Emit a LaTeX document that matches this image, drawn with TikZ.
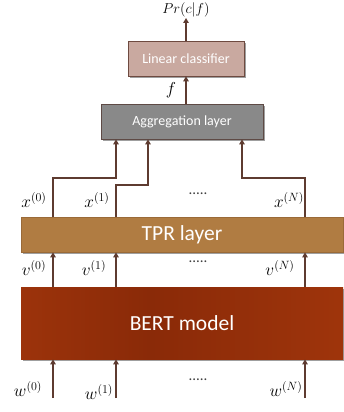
\documentclass[tikz,border=0pt]{standalone}
\usepackage{fontspec}
\setmainfont{Carlito}
\usetikzlibrary{shadows,arrows.meta}
\definecolor{arrc}{HTML}{5E3B30}
\definecolor{linfill}{HTML}{C9A9A0}
\definecolor{linborder}{HTML}{6E4A40}
\definecolor{aggfill}{HTML}{898989}
\definecolor{aggborder}{HTML}{5E4A45}
\definecolor{tprfill}{HTML}{B07C42}
\definecolor{tprborder}{HTML}{9A6A38}
\definecolor{bA}{HTML}{8F3C1E}
\definecolor{bB}{HTML}{A2360C}
\definecolor{bC}{HTML}{8A2A08}
\pgfdeclarehorizontalshading{bertshade}{100bp}{color(0bp)=(bA); color(18bp)=(bB); color(45bp)=(bC); color(80bp)=(bB); color(100bp)=(bA)}
\tikzset{
  box/.style={rectangle, inner sep=0pt, text=white, line width=0.8pt,
    drop shadow={shadow xshift=1.6pt, shadow yshift=-1.6pt, opacity=0.5, fill=black!75}},
  smallbox/.style={box, font=\fontsize{14}{16}\selectfont},
  bigbox/.style={box, font=\fontsize{21.5}{24}\selectfont},
  arr/.style={draw=arrc, line width=1.6pt, -{Triangle[width=5.5pt,length=5pt]}},
  lab/.style={inner sep=0pt, font=\fontsize{17}{19}\selectfont},
  toplab/.style={inner sep=0pt, font=\fontsize{15}{17}\selectfont},
  dots/.style={inner sep=0pt, text=black!75, font=\fontsize{15}{16}\selectfont}
}
\begin{document}
\begin{tikzpicture}[x=1pt,y=-1pt]
\useasboundingbox (0,0) rectangle (343,412);
% boxes
\node[smallbox, fill=linfill, draw=linborder, minimum width=116pt, minimum height=35pt] (lin) at (186,58.5) {Linear classifier};
\node[smallbox, fill=aggfill, draw=aggborder, minimum width=162pt, minimum height=35pt] (agg) at (182,121.5) {Aggregation layer};
\node[bigbox, fill=tprfill, draw=tprborder, minimum width=322pt, minimum height=35pt] (tpr) at (182,234.5) {TPR layer};
\node[bigbox, shading=bertshade, minimum width=322pt, minimum height=72pt] (bert) at (182,323) {BERT model};
% column coordinates
\coordinate (c0) at (53,0);
\coordinate (c1) at (116,0);
\coordinate (cN) at (305,0);
\coordinate (cf) at (186,0);
\coordinate (prend) at (186,18);
\coordinate (k0) at (116,178);
\coordinate (k1) at (148,185);
\coordinate (kN) at (242,178);
\coordinate (w0s) at (53,398);
\coordinate (w1s) at (116,398);
\coordinate (wNs) at (305,398);
% top
\node[toplab] (pr) at (186,9.5) {$Pr(c|f)$};
\draw[arr] (lin.north) -- (prend);
\draw[arr] (agg.north -| cf) -- (lin.south -| cf);
\node[lab] (flab) at (171,90) {$f$};
% x paths
\draw[arr] (tpr.north -| c0) |- (k0) -- (agg.south -| k0);
\draw[arr] (tpr.north -| c1) |- (k1) -- (agg.south -| k1);
\draw[arr] (tpr.north -| cN) |- (kN) -- (agg.south -| kN);
\node[lab] (x0) at (34,200) {$x^{(0)}$};
\node[lab] (x1) at (97,200) {$x^{(1)}$};
\node[dots] (xd) at (198,194) {.....};
\node[lab] (xN) at (289,200) {$x^{(N)}$};
% v arrows
\draw[arr] (bert.north -| c0) -- (tpr.south -| c0);
\draw[arr] (bert.north -| c1) -- (tpr.south -| c1);
\draw[arr] (bert.north -| cN) -- (tpr.south -| cN);
\node[lab] (v0) at (34,268) {$v^{(0)}$};
\node[lab] (v1) at (94,268) {$v^{(1)}$};
\node[dots] (vd) at (198,262) {.....};
\node[lab] (vN) at (280,268) {$v^{(N)}$};
% w arrows
\draw[arr] (w0s) -- (bert.south -| c0);
\draw[arr] (w1s) -- (bert.south -| c1);
\draw[arr] (wNs) -- (bert.south -| cN);
\node[lab] (w0) at (28,389) {$w^{(0)}$};
\node[lab] (w1) at (99,392) {$w^{(1)}$};
\node[dots] (wd) at (198,380) {.....};
\node[lab] (wN) at (286,389) {$w^{(N)}$};
\end{tikzpicture}
\end{document}
